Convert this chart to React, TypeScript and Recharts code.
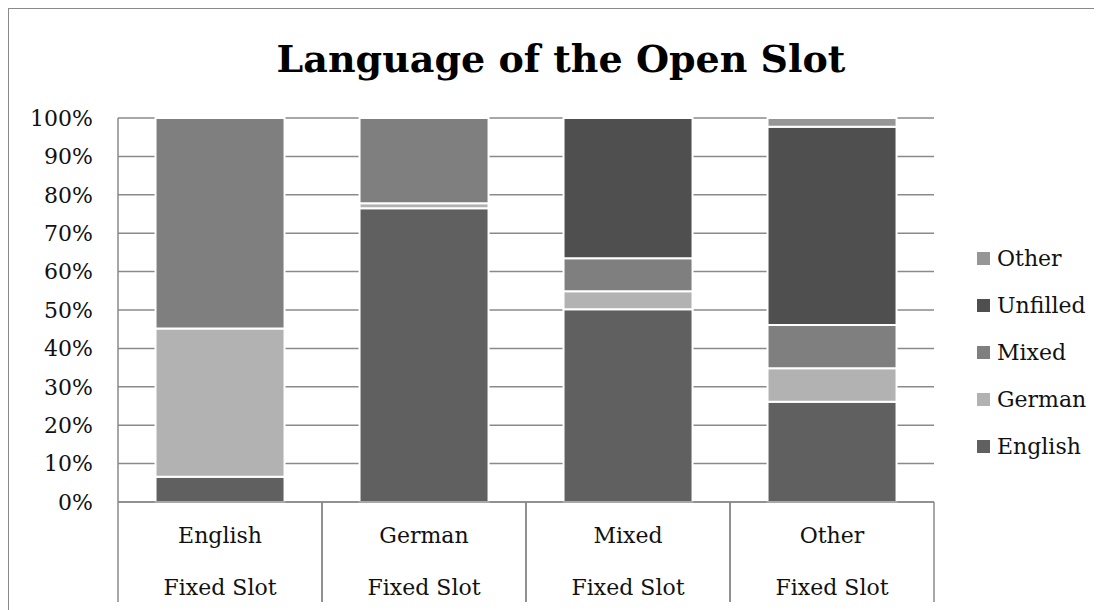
import { Bar, BarChart, CartesianGrid, Legend, XAxis, YAxis } from "recharts";

const categories = ["English", "German", "Mixed", "Other"];
const groupLabel = "Fixed Slot";
const english = [0.066, 0.765, 0.502, 0.261];
const german = [0.386, 0.013, 0.047, 0.087];
const mixed = [0.548, 0.222, 0.086, 0.113];
const unfilled = [0, 0, 0.365, 0.516];
const other = [0, 0, 0, 0.023];
const yTicks = [0, 0.1, 0.2, 0.3, 0.4, 0.5, 0.6, 0.7, 0.8, 0.9, 1];

const series = [
  { key: "English", values: english, color: "#606060" },
  { key: "German", values: german, color: "#b2b2b2" },
  { key: "Mixed", values: mixed, color: "#7f7f7f" },
  { key: "Unfilled", values: unfilled, color: "#4f4f4f" },
  { key: "Other", values: other, color: "#969696" },
];

const data = categories.map((name, i) => {
  const row: Record<string, number | string> = { name };
  series.forEach((s) => {
    row[s.key] = s.values[i];
  });
  return row;
});

const font = "'DejaVu Serif', serif";
const gray = "#8a8a8a";

function CategoryTick(props: any) {
  const { x, y, payload } = props;
  const half = 102;
  return (
    <g>
      <line x1={x - half} x2={x - half} y1={y} y2={y + 100} stroke={gray} strokeWidth={1.5} />
      <line x1={x + half} x2={x + half} y1={y} y2={y + 100} stroke={gray} strokeWidth={1.5} />
      <text x={x} y={y + 33} textAnchor="middle" dominantBaseline="central" fontSize={22} fontFamily={font} fill="#111">
        {payload.value}
      </text>
      <text x={x} y={y + 85} textAnchor="middle" dominantBaseline="central" fontSize={22} fontFamily={font} fill="#111">
        {groupLabel}
      </text>
    </g>
  );
}

function LegendBox() {
  const items = [...series].reverse();
  return (
    <div style={{ fontFamily: font, fontSize: 22, color: "#111" }}>
      {items.map((s) => (
        <div key={s.key} style={{ height: 47, display: "flex", alignItems: "center" }}>
          <span style={{ width: 13, height: 13, background: s.color, display: "inline-block", marginRight: 7 }} />
          <span>{s.key}</span>
        </div>
      ))}
    </div>
  );
}

export default function App() {
  return (
    <div style={{ position: "relative", width: 1090, height: 610, border: `1px solid ${gray}`, background: "#fff" }}>
      <div
        style={{
          position: "absolute",
          left: 152,
          top: 28,
          width: 800,
          textAlign: "center",
          fontFamily: font,
          fontWeight: "bold",
          fontSize: 38,
          color: "#000",
          lineHeight: "44px",
          whiteSpace: "nowrap",
        }}
      >
        Language of the Open Slot
      </div>
      <BarChart
        width={1090}
        height={610}
        data={data}
        margin={{ top: 109, right: 165, bottom: 17, left: 0 }}
        barCategoryGap="18.4%"
      >
        <CartesianGrid vertical={false} stroke={gray} strokeWidth={1.5} />
        <XAxis
          dataKey="name"
          height={100}
          interval={0}
          tickSize={0}
          tickMargin={0}
          tick={<CategoryTick />}
          axisLine={{ stroke: gray, strokeWidth: 1.5 }}
        />
        <YAxis
          width={109}
          domain={[0, 1]}
          ticks={yTicks}
          tickFormatter={(v: number) => `${Math.round(v * 100)}%`}
          tickSize={0}
          tickMargin={25}
          tick={{ fontSize: 22, fontFamily: font, fill: "#111" }}
          axisLine={{ stroke: gray, strokeWidth: 1.5 }}
        />
        <Legend
          layout="horizontal"
          verticalAlign="middle"
          align="center"
          content={<LegendBox />}
          wrapperStyle={{ position: "absolute", left: 968, top: 226, width: 120 }}
        />
        {series.map((s) => (
          <Bar
            key={s.key}
            dataKey={s.key}
            stackId="a"
            fill={s.color}
            stroke="#fff"
            strokeWidth={2}
            isAnimationActive={false}
          />
        ))}
      </BarChart>
    </div>
  );
}
